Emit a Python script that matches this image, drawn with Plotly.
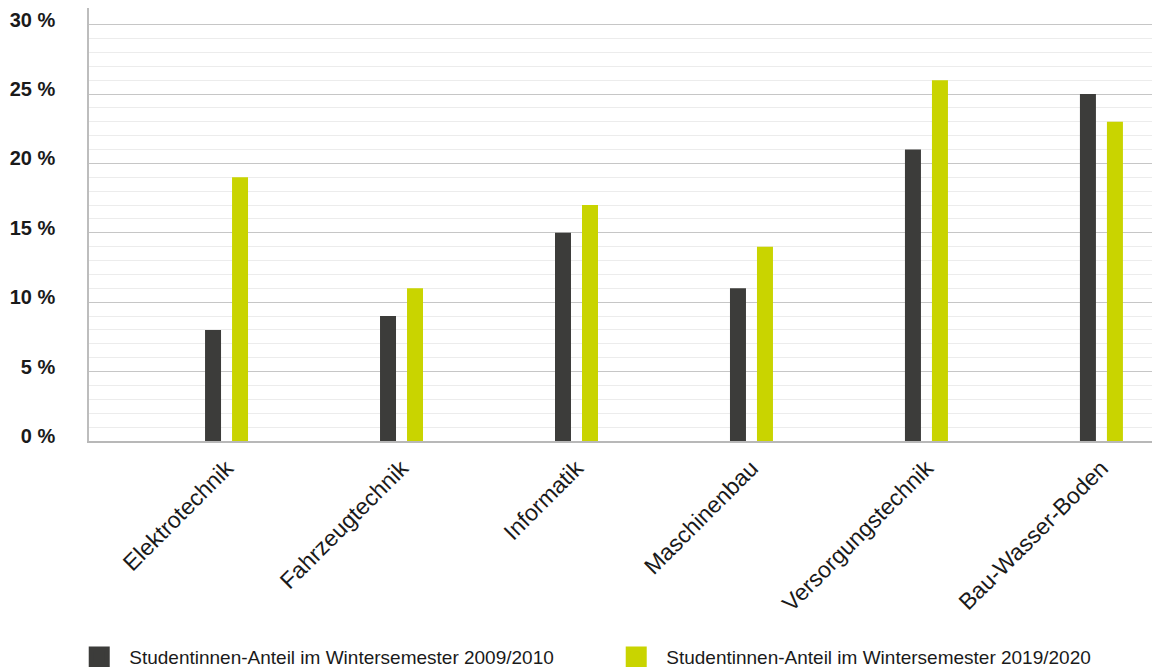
import plotly.graph_objects as go

categories = ["Elektrotechnik", "Fahrzeugtechnik", "Informatik", "Maschinenbau",
              "Versorgungstechnik", "Bau-Wasser-Boden"]
values_2009 = [8, 9, 15, 11, 21, 25]
values_2019 = [19, 11, 17, 14, 26, 23]
series_names = ["Studentinnen-Anteil im Wintersemester 2009/2010",
                "Studentinnen-Anteil im Wintersemester 2019/2020"]
y_major = [0, 5, 10, 15, 20, 25, 30]
y_major_labels = ["0 %", "5 %", "10 %", "15 %", "20 %", "25 %", "30 %"]
y_minor = [v for v in range(1, 30) if v % 5 != 0]

DARK = "#3c3c3a"
GREEN = "#c9d400"
colors = [DARK, GREEN]

fig = go.Figure()
for vals, name, col in zip([values_2009, values_2019], series_names, colors):
    fig.add_trace(go.Bar(x=categories, y=vals, name=name, showlegend=False,
                         marker=dict(color=col, line=dict(width=0))))
# legend entries (bigger square swatches)
for name, col in zip(series_names, colors):
    fig.add_trace(go.Scatter(x=[None], y=[None], mode="markers", name=name,
                             marker=dict(symbol="square", size=16, color=col,
                                         line=dict(width=5, color=col))))

fig.update_layout(
    width=1152, height=667,
    margin=dict(l=89, r=0, t=8, b=226, autoexpand=False),
    paper_bgcolor="white", plot_bgcolor="white",
    barmode="group", bargap=0.6914, bargroupgap=0.4076,
    font=dict(family="Liberation Sans, Arial, sans-serif", color="#1a1a1a"),
    showlegend=True,
    legend=dict(orientation="h", x=-0.0186, xanchor="left",
                y=-0.5428, yanchor="bottom",
                font=dict(size=19, color="#1a1a1a"),
                itemwidth=50, itemsizing="trace",
                entrywidth=472, entrywidthmode="pixels",
                traceorder="normal", bgcolor="rgba(0,0,0,0)"),
)
fig.update_xaxes(
    type="category", range=[-0.786, 5.289],
    tickangle=-45, tickfont=dict(size=23, color="#1a1a1a"),
    ticklabelstandoff=3,
    showgrid=False, showline=True, linecolor="rgba(160,160,160,0.75)", linewidth=1.5,
    ticks="", fixedrange=True,
)
fig.update_yaxes(
    range=[0, 31.2],
    tickmode="array", tickvals=y_major,
    ticktext=["<b>%s</b>" % t for t in y_major_labels],
    tickfont=dict(size=20, color="#1a1a1a", family="Liberation Sans, Arial, sans-serif"),
    ticklabelstandoff=28, ticklabelshift=-5,
    showgrid=True, gridcolor="#c6c6c6", gridwidth=1,
    minor=dict(tickmode="array", tickvals=y_minor, showgrid=True,
               gridcolor="#ececec", gridwidth=1, ticks=""),
    showline=True, linecolor="#bdbdbd", linewidth=1.5,
    zeroline=False, ticks="", fixedrange=True,
)

fig.write_html("out.html", config={"displayModeBar": False},
               post_script="document.body.style.margin='0';document.body.style.overflow='hidden';")
